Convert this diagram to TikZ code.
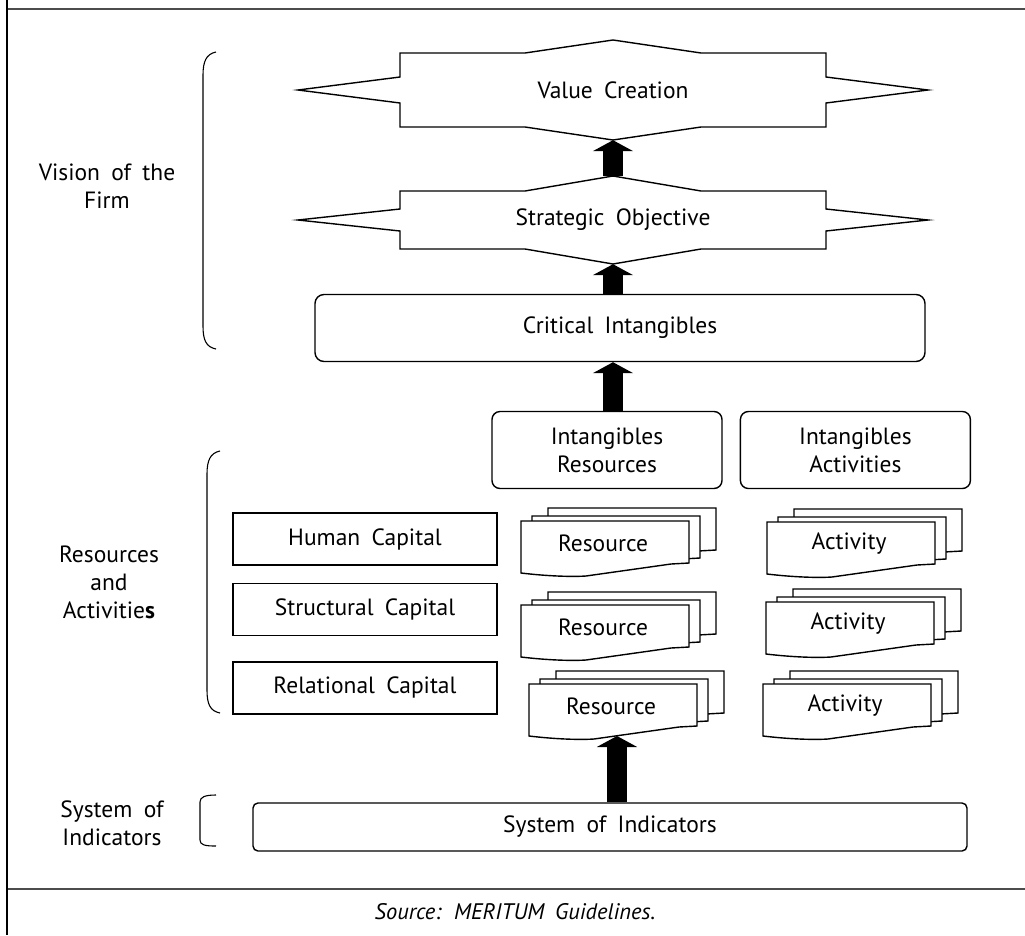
\documentclass[tikz,border=0pt]{standalone}
\usepackage{fontspec}
\setmainfont[WordSpace=1.8]{PT Sans}
\usetikzlibrary{positioning,arrows.meta}

% star outline round a node: name, half body height, peak, notch
\newcommand{\starbox}[4]{%
  \begin{scope}[shift={(#1.center)}]
    \draw[starline] (-213,-#2) -- (-88,-#2) -- (0,-#3) -- (88,-#2) -- (213,-#2)
      -- (213,-#4) -- (315,0) -- (213,#4) -- (213,#2) -- (88,#2) -- (0,#3)
      -- (-88,#2) -- (-213,#2) -- (-213,#4) -- (-315,0) -- (-213,-#4) -- cycle;
  \end{scope}}

% stack of three sheets: name, top left corner, text
\newcommand{\docstack}[3]{%
  \begin{scope}[shift={#2}]
    \foreach \dx/\dy in {27/-13, 11/-5, 0/0}
      \draw[sheet, shift={(\dx,\dy)}] (0,0) -- (168,0) -- (168,42) -- (150,43)
        -- (65,55) .. controls (50,56) and (25,55) .. (0,52) -- cycle;
    \node (#1) at (82,22) {#3};
    \coordinate (#1 foot) at (88,52);
  \end{scope}}

\begin{document}
\begin{tikzpicture}[x=1pt, y=-1pt,
  every node/.style={font=\fontsize{23.5}{28}\selectfont},
  box/.style={draw, line width=1.4pt, inner sep=0pt, align=center},
  roundbox/.style={box, rounded corners=9pt},
  starnode/.style={inner sep=0pt, minimum width=426pt},
  starline/.style={line width=1.4pt, line join=miter},
  sheet/.style={draw, fill=white, line width=1.4pt},
  blockarrow/.style={line width=20pt, -{Triangle[width=40pt, length=11pt]}},
  brace/.style={line width=1.1pt},
  rule/.style={line width=1.8pt, black!70},
  sidelabel/.style={align=center}]

\useasboundingbox (0,0) rectangle (1025,935);

% frame
\draw[rule] (7,9) -- (1025,9);
\draw[rule] (7,889) -- (1025,889);
\draw[line width=1.8pt] (7,0) -- (7,935);

% vision of the firm
\node[starnode, minimum height=100pt] (vc) at (613,90) {Value Creation};
\starbox{vc}{37}{50}{13}
\node[starnode, minimum height=88pt] (so) at (613,220) {Strategic Objective};
\starbox{so}{29}{44}{11}
\node[roundbox, minimum width=610pt, minimum height=67pt] (ci) at (620,328) {Critical Intangibles};

% resources and activities
\node[roundbox, rounded corners=8pt, minimum width=230pt, minimum height=77pt] (ir) at (607,450) {Intangibles\\Resources};
\node[roundbox, rounded corners=8pt, minimum width=230pt, minimum height=77pt, right=17pt of ir] (ia) {Intangibles\\Activities};

\node[box, minimum width=264pt, minimum height=52pt] (hc) at (365,539) {Human Capital};
\node[box, minimum width=264pt, minimum height=52pt, below=17pt of hc] (sc) {Structural Capital};
\node[box, minimum width=264pt, minimum height=52pt, below=25pt of sc] (rc) {Relational Capital};

\docstack{res1}{(521,521)}{Resource}
\docstack{res2}{(521,605)}{Resource}
\docstack{res3}{(529,684)}{Resource}
\docstack{act1}{(767,522)}{Activity}
\docstack{act2}{(766,602)}{Activity}
\docstack{act3}{(763,684)}{Activity}

% system of indicators
\node[roundbox, rounded corners=5pt, minimum width=714pt, minimum height=48pt] (soi) at (610,827) {System of Indicators};

\draw[blockarrow] (so.north) -- (vc.south);
\draw[blockarrow] (ci.north -| so) -- (so.south);
\draw[blockarrow] (ir.north -| so) -- (ci.south -| so);
\draw[blockarrow] (res3 foot |- soi.north) -- (res3 foot);

% side labels
\node[sidelabel] (vision) at (107,186) {Vision of the\\Firm};
\node[sidelabel] (resact) at (109,582) {Resources\\and\\Activitie\textbf{s}};
\node[sidelabel] (sysind) at (112,823) {System of\\Indicators};

\draw[brace] (216,52) .. controls (206,54) and (203,62) .. (203,75) -- (203,326) .. controls (203,340) and (206,347) .. (216,349);
\draw[brace] (220,451) .. controls (210,453) and (207,461) .. (207,474) -- (207,690) .. controls (207,704) and (210,711) .. (220,713);
\draw[brace] (216,795) .. controls (205,795) and (200,797) .. (200,802) -- (200,840) .. controls (200,845) and (205,846) .. (216,846);

\node[font=\itshape\fontsize{22.5}{26}\selectfont] (source) at (515,912) {Source: MERITUM Guidelines.};

\end{tikzpicture}
\end{document}
